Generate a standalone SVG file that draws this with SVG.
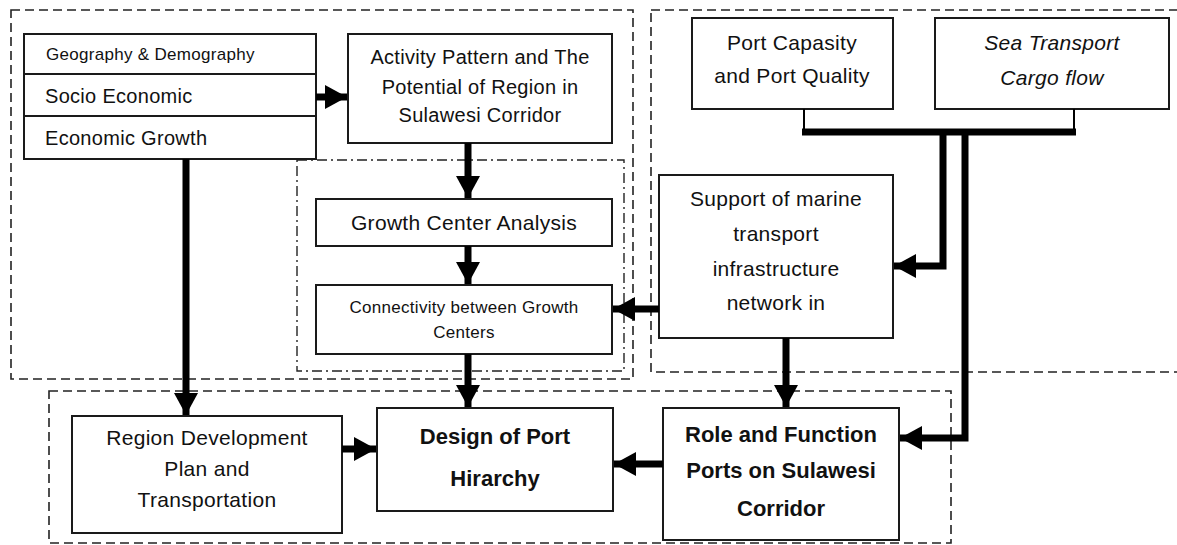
<svg xmlns="http://www.w3.org/2000/svg" width="1177" height="545" viewBox="0 0 1177 545">
<style>
.bg{fill:#fff}
.box{fill:#fff;stroke:#1a1a1a;stroke-width:2}
.dash{fill:none;stroke:#222;stroke-width:1.6;stroke-dasharray:9,5}
.dashdot{fill:none;stroke:#222;stroke-width:1.4;stroke-dasharray:10,4,2,4}
.t{font-family:"Liberation Sans",Arial,sans-serif;font-size:20px;fill:#111;text-anchor:middle;letter-spacing:0.3px}
.l{text-anchor:start}
.m{font-size:21px}
.b{font-weight:bold;font-size:22px;letter-spacing:0}
.i{font-style:italic}
.s{font-size:17px}
.c{fill:none;stroke:#000;stroke-width:7}
.thin{fill:none;stroke:#000;stroke-width:2}
</style>
<defs>
<marker id="ah" markerUnits="userSpaceOnUse" markerWidth="24" markerHeight="26" refX="22" refY="12" orient="auto">
<path d="M0,0 L22,12 L0,24 z" fill="#000"/>
</marker>
</defs>
<rect class="bg" x="0" y="0" width="1177" height="545"/>
<g id="groups">
<rect class="dash" x="11" y="10" width="622" height="369"/>
<rect class="dash" x="651" y="10" width="540" height="362"/>
<rect class="dash" x="49" y="391" width="902" height="152"/>
<rect class="dashdot" x="297" y="160" width="327" height="211"/>
</g>
<g id="factors">
<rect class="box" x="24" y="34" width="292" height="125"/>
<line x1="24" y1="74" x2="316" y2="74" stroke="#1a1a1a" stroke-width="2"/>
<line x1="24" y1="116" x2="316" y2="116" stroke="#1a1a1a" stroke-width="2"/>
<text class="t l s" x="46" y="60">Geography &amp; Demography</text>
<text class="t l" x="45" y="103">Socio Economic</text>
<text class="t l" x="45" y="145">Economic Growth</text>
</g>
<g id="activity">
<rect class="box" x="348" y="34" width="264" height="109"/>
<text class="t" x="480" y="64">Activity Pattern and The</text>
<text class="t" x="480" y="94">Potential of Region in</text>
<text class="t" x="480" y="122">Sulawesi Corridor</text>
</g>
<g id="growth">
<rect class="box" x="316" y="199" width="296" height="47"/>
<text class="t m" x="464" y="230">Growth Center Analysis</text>
</g>
<g id="connectivity">
<rect class="box" x="316" y="285" width="296" height="69"/>
<text class="t s" x="464" y="313">Connectivity between Growth</text>
<text class="t s" x="464" y="338">Centers</text>
</g>
<g id="portcap">
<rect class="box" x="692" y="18" width="201" height="91"/>
<text class="t m" x="792" y="50">Port Capasity</text>
<text class="t m" x="792" y="83">and Port Quality</text>
</g>
<g id="seatransport">
<rect class="box" x="935" y="18" width="234" height="91"/>
<text class="t m i" x="1052" y="50">Sea Transport</text>
<text class="t m i" x="1052" y="85">Cargo flow</text>
</g>
<g id="support">
<rect class="box" x="659" y="175" width="234" height="163"/>
<text class="t m" x="776" y="206">Support of marine</text>
<text class="t m" x="776" y="241">transport</text>
<text class="t m" x="776" y="276">infrastructure</text>
<text class="t m" x="776" y="310">network in</text>
</g>
<g id="region">
<rect class="box" x="72" y="416" width="270" height="117"/>
<text class="t m" x="207" y="445">Region Development</text>
<text class="t m" x="207" y="476">Plan and</text>
<text class="t m" x="207" y="507">Transportation</text>
</g>
<g id="design">
<rect class="box" x="377" y="408" width="236" height="103"/>
<text class="t b" x="495" y="444">Design of Port</text>
<text class="t b" x="495" y="486">Hirarchy</text>
</g>
<g id="role">
<rect class="box" x="663" y="408" width="236" height="132"/>
<text class="t b" x="781" y="442">Role and Function</text>
<text class="t b" x="781" y="478">Ports on Sulawesi</text>
<text class="t b" x="781" y="516">Corridor</text>
</g>
<g id="connectors">
<line class="c" x1="316" y1="97" x2="347" y2="97" marker-end="url(#ah)"/>
<line class="c" x1="468" y1="143" x2="468" y2="198" marker-end="url(#ah)"/>
<line class="c" x1="468" y1="246" x2="468" y2="284" marker-end="url(#ah)"/>
<line class="c" x1="468" y1="354" x2="468" y2="407" marker-end="url(#ah)"/>
<line class="c" x1="186" y1="159" x2="186" y2="415" marker-end="url(#ah)"/>
<line class="c" x1="342" y1="449" x2="376" y2="449" marker-end="url(#ah)"/>
<line class="c" x1="663" y1="464" x2="614" y2="464" marker-end="url(#ah)"/>
<line class="c" x1="659" y1="309" x2="613" y2="309" marker-end="url(#ah)"/>
<line class="c" x1="786" y1="338" x2="786" y2="407" marker-end="url(#ah)"/>
<line class="thin" x1="804" y1="109" x2="804" y2="132"/>
<line class="thin" x1="1074" y1="109" x2="1074" y2="132"/>
<line class="c" x1="802" y1="132" x2="1076" y2="132"/>
<polyline class="c" points="943,132 943,266 894,266" stroke-width="6" marker-end="url(#ah)"/>
<polyline class="c" points="965,132 965,438 900,438" stroke-width="5" marker-end="url(#ah)"/>
</g>
</svg>
